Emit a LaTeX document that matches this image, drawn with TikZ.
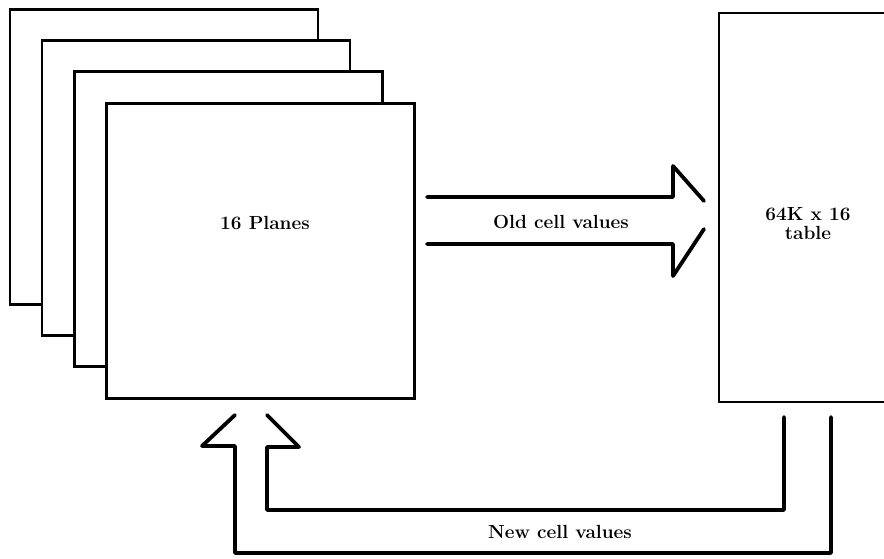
\documentclass[tikz,border=0pt]{standalone}
\begin{document}
\begin{tikzpicture}[x=1pt,y=-1pt,
  plane/.style={draw=black,fill=white,line width=2.4pt,minimum width=308pt,minimum height=295pt,inner sep=0pt},
  tablebox/.style={draw=black,fill=white,line width=2.4pt,minimum width=181pt,minimum height=389pt,inner sep=0pt},
  lbl/.style={font=\fontsize{19}{22}\selectfont\bfseries,align=center,inner sep=0pt},
  bigarrow/.style={draw=black,line width=3.8pt,line cap=round,line join=round}]
\clip (0,0) rectangle (884,559);
\fill[white] (0,0) rectangle (884,559);
% stacked planes
\node[plane] (p1) at (164,157) {};
\node[plane] (p2) at (196,188) {};
\node[plane] (p3) at (228.5,219) {};
\node[plane] (p4) at (260.5,251) {};
\node[lbl] (planes) at (265,223) {16 Planes};
% table
\node[tablebox] (tbl) at (809.5,207.5) {};
\node[lbl] (tbltext) at (808,224) {64K x 16\\[-3pt]table};
% old cell values arrow
\coordinate (o1) at (427,197);
\coordinate (o2) at (427,244);
\draw[bigarrow] (o1) -- (673,197) -- (673,166) -- (704,201);
\draw[bigarrow] (o2) -- (673,244) -- (673,276) -- (704,229);
\node[lbl] (old) at (561,222) {Old cell values};
% new cell values arrow
\draw[bigarrow] (235,415) -- (202,446) -- (235,446) -- (235,553) -- (831,553) -- (831,417);
\draw[bigarrow] (267,415) -- (299,447) -- (267,447) -- (267,510) -- (784,510) -- (784,417);
\node[lbl] (new) at (560,532) {New cell values};
\end{tikzpicture}
\end{document}
